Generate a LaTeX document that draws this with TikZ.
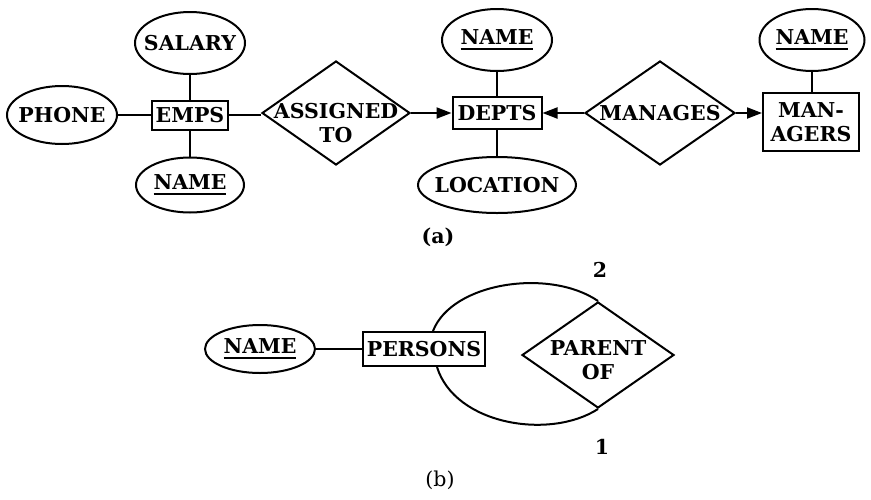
\documentclass[tikz,border=0pt]{standalone}
\usepackage{fontspec}
\setmainfont{DejaVu Serif}
\usetikzlibrary{shapes.geometric,arrows.meta}
% key attribute: text with a heavy rule beneath it
\newcommand\keyattr[1]{\setbox0=\hbox{#1}\rlap{\rule[-5pt]{\wd0}{2pt}}\box0}
\begin{document}
\begin{tikzpicture}[x=1pt,y=-1pt,line width=2pt,
  every node/.style={font=\bfseries\fontsize{20.5}{24}\selectfont},
  attr/.style={ellipse,draw,inner sep=0pt},
  ent/.style={rectangle,draw,inner sep=0pt,align=center},
  rel/.style={diamond,draw,inner sep=0pt},
  lbl/.style={align=center,inner sep=0pt},
  arr/.style={-{Triangle[length=15pt,width=11pt]}}]
\useasboundingbox (0,0) rectangle (871,499);

% ---------- (a) ----------
\node[attr,minimum width=110pt,minimum height=62pt] (salary) at (190,43) {};
\node[lbl] at (salary) {SALARY};
\node[attr,minimum width=110pt,minimum height=58pt] (phone) at (62,115) {};
\node[lbl] at (phone) {PHONE};
\node[ent,minimum width=76pt,minimum height=29pt] (emps) at (190,115) {EMPS};
\node[attr,minimum width=108pt,minimum height=55pt] (ename) at (190,185) {};
\node[lbl] at (ename) {\keyattr{NAME}};

\node[rel,minimum width=148pt,minimum height=104pt] (assign) at (336,113) {};
\node[lbl,yshift=-10pt] at (assign) {ASSIGNED\\TO};

\node[ent,minimum width=89pt,minimum height=32pt] (depts) at (497,113) {DEPTS};
\node[attr,minimum width=110pt,minimum height=62pt] (dname) at (497,40) {};
\node[lbl] at (dname) {\keyattr{NAME}};
\node[attr,minimum width=158pt,minimum height=56pt] (location) at (497,185) {};
\node[lbl] at (location) {LOCATION};

\node[rel,minimum width=150pt,minimum height=104pt] (manages) at (660,113) {};
\node[lbl] at (manages) {MANAGES};
\node[ent,minimum width=96pt,minimum height=58pt] (managers) at (811,122) {MAN-\\AGERS};
\node[attr,minimum width=105pt,minimum height=62pt] (mname) at (812,40) {};
\node[lbl] at (mname) {\keyattr{NAME}};

\node[lbl] (capa) at (438,237) {(a)};

\draw (salary) -- (emps);
\draw (ename) -- (emps);
\draw (phone) -- (emps);
\draw (emps.east) -- (emps.east -| assign.west);
\draw[arr] (assign.east) -- (depts.west);
\draw (dname) -- (depts);
\draw (location) -- (depts);
\draw[arr] (manages.west) -- (depts.east);
\draw[arr] (manages.east) -- (manages.east -| managers.west);
\draw (mname.south) -- (mname.south |- managers.north);

% ---------- (b) ----------
\node[attr,minimum width=110pt,minimum height=48pt] (bname) at (260,349) {};
\node[lbl] at (bname) {\keyattr{NAME}};
\node[ent,minimum width=122pt,minimum height=34pt] (persons) at (424,349) {PERSONS};
\node[rel,minimum width=152pt,minimum height=106pt] (parent) at (598,355) {};
\node[lbl,yshift=-5pt] at (parent) {PARENT\\OF};

\draw (bname) -- (persons);
\draw ([xshift=9pt]persons.north) .. controls (452,282) and (550,268) .. (parent.north);
\draw ([xshift=13pt]persons.south) .. controls (455,425) and (550,440) .. (parent.south);

\node[lbl] (roletwo) at (600,270) {2};
\node[lbl] (roleone) at (602,447) {1};
\node[lbl,font=\fontsize{20.5}{24}\selectfont] (capb) at (440,480) {(b)};
\end{tikzpicture}
\end{document}
